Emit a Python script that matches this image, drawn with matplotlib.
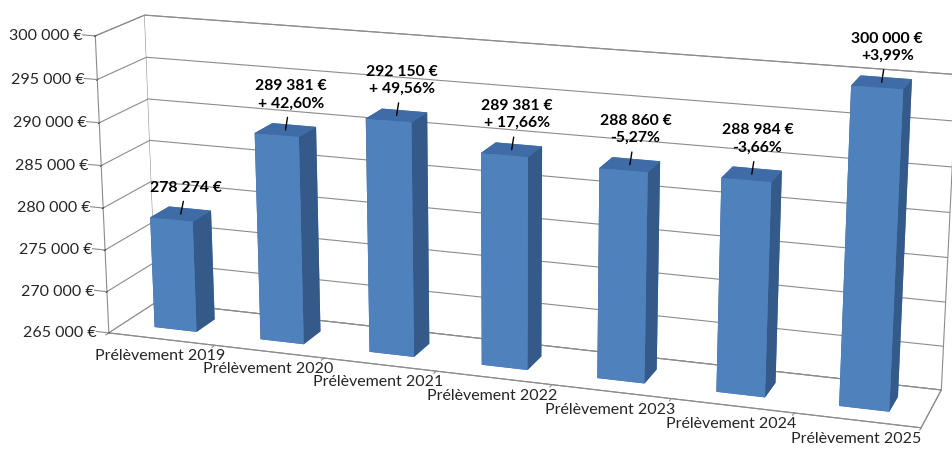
import numpy as np
import matplotlib
matplotlib.use("Agg")
import matplotlib.pyplot as plt
from mpl_toolkits.mplot3d import proj3d

plt.rcParams["font.family"] = ["Lato", "DejaVu Sans"]

# ------------------------------------------------------------------
# data
# ------------------------------------------------------------------
years = ["Prélèvement 2019", "Prélèvement 2020", "Prélèvement 2021",
         "Prélèvement 2022", "Prélèvement 2023", "Prélèvement 2024",
         "Prélèvement 2025"]
values = [278274, 289381, 292150, 289381, 288860, 288984, 300000]
changes = ["", "+ 42,60%", "+ 49,56%", "+ 17,66%", "-5,27%", "-3,66%", "+3,99%"]
z_ticks = [265000, 270000, 275000, 280000, 285000, 290000, 295000, 300000]

Z0, Z1 = z_ticks[0], z_ticks[-1]
GRID = "#8c8c8c"
FRONT, TOP, SIDE = "#4f81bd", "#3f6ca6", "#345a8a"


def euros(v):
    return f"{int(round(v)):,}".replace(",", " ") + " €"


fig = plt.figure(figsize=(9.52, 4.57), dpi=100)
ax = fig.add_axes([0.024, -0.528, 1, 2.08], projection="3d",
                  proj_type="persp", focal_length=0.5)
ax.view_init(elev=16, azim=-71)
ax.set_box_aspect((7, 0.9, 2.6), zoom=0.94)

n = len(values)
ax.set_xlim(-0.5, n - 0.5)
ax.set_ylim(0, 1)
ax.set_zlim(Z0, Z1)

# bars: faces are -z, +z, -y, +y, -x, +x
faces = [TOP, TOP, FRONT, FRONT, SIDE, SIDE] * n
ax.bar3d(np.arange(n) - 0.2, np.full(n, 0.3), np.full(n, Z0),
         0.4, 0.4, np.array(values) - Z0,
         color=faces, shade=False, linewidth=0)

# walls and floor
for axis in (ax.xaxis, ax.yaxis, ax.zaxis):
    axis.set_pane_color((1, 1, 1, 1))
    axis.pane.set_edgecolor(GRID)
    axis.pane.set_linewidth(0.8)
    axis.line.set_color(GRID)
    axis.line.set_linewidth(0.8)

ax.xaxis._axinfo["grid"]["linewidth"] = 0
ax.yaxis._axinfo["grid"]["linewidth"] = 0
ax.zaxis._axinfo["grid"].update(color=GRID, linewidth=0.8)
ax.xaxis._axinfo["tick"]["inward_factor"] = 0
ax.xaxis._axinfo["tick"]["outward_factor"] = 0
ax.zaxis.set_ticks_position("lower")

ax.set_xticks(range(n))
ax.set_xticklabels(years)
ax.set_yticks([])
ax.set_zticks(z_ticks)
ax.set_zticklabels([])
ax.tick_params(axis="x", labelsize=11.5, colors="#262626")

# tick marks between categories on the front edge
for b in np.arange(n + 1) - 0.5:
    ax.plot([b, b], [0, -0.06], [Z0, Z0], color=GRID, lw=0.8)

M = ax.get_proj()


def screen(x, y, z):
    x2, y2, _ = proj3d.proj_transform(x, y, z, M)
    return x2, y2


# value axis labels along the front-left edge
for z in z_ticks:
    ax.plot([-0.5, -0.62], [0, 0], [z, z], color=GRID, lw=0.8)
    ax.annotate(euros(z), xy=screen(-0.5, 0, z), xytext=(-9, 0),
                textcoords="offset points", ha="right", va="center",
                fontsize=11.5, color="#262626")

# value labels with leader lines
for i, v in enumerate(values):
    txt = euros(v) if not changes[i] else euros(v) + "\n" + changes[i]
    ax.annotate(txt, xy=screen(i, 0.5, v), xytext=(4, 14),
                textcoords="offset points",
                ha="center", va="bottom", fontsize=11.3, fontweight="bold",
                multialignment="center", linespacing=1.3,
                arrowprops=dict(arrowstyle="-", color="black", lw=1,
                                shrinkA=3, shrinkB=0))

fig.savefig("out.png", dpi=100)
